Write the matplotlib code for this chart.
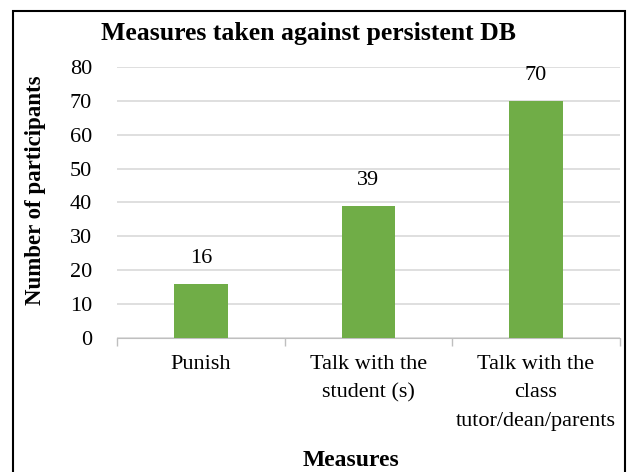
import matplotlib.pyplot as plt
import numpy as np
from matplotlib.patches import Rectangle

categories = ["Punish", "Talk with the\nstudent (s)", "Talk with the\nclass\ntutor/dean/parents"]
values = [16, 39, 70]
yticks = [0, 10, 20, 30, 40, 50, 60, 70, 80]

plt.rcParams['font.family'] = ['Liberation Serif', 'DejaVu Serif']

fig = plt.figure(figsize=(6.27, 4.72), dpi=100)
ax = fig.add_axes([0.1866, 0.284, 0.802, 0.574])

x = np.arange(len(categories))
ax.bar(x, values, width=0.32, color='#70AD47', zorder=3)
for xi, v in zip(x, values):
    ax.annotate(str(v), (xi, v), xytext=(0, 18), textcoords='offset points',
                ha='center', va='center', fontsize=16)

ax.set_xlim(-0.5, 2.5)
ax.set_ylim(0, 80)
ax.set_yticks(yticks)
ax.set_xticks(x)
ax.set_xticklabels(categories, fontsize=16, va='top', linespacing=1.7)
ax.set_xticks([-0.5, 0.5, 1.5, 2.5], minor=True)
ax.tick_params(axis='x', which='major', length=0, pad=12)
ax.tick_params(axis='x', which='minor', length=6, color='#BFBFBF', width=1)
ax.tick_params(axis='y', length=0, labelsize=16, pad=18)
ax.grid(axis='y', color='#D9D9D9', linewidth=1.2, zorder=0)

for s in ['top', 'right', 'left']:
    ax.spines[s].set_visible(False)
ax.spines['bottom'].set_color('#BFBFBF')

fig.text(0.492, 0.93, "Measures taken against persistent DB", ha='center', va='center',
         fontsize=18.5, fontweight='bold')
fig.text(0.056, 0.597, "Number of participants", ha='center', va='center',
         rotation=90, fontsize=16.5, fontweight='bold')
fig.text(0.56, 0.025, "Measures", ha='center', va='center', fontsize=17, fontweight='bold')

fig.patches.append(Rectangle((0.021, -0.05), 0.976, 1.027, transform=fig.transFigure,
                             fill=False, edgecolor='black', linewidth=1.5))

plt.savefig("out.png")
